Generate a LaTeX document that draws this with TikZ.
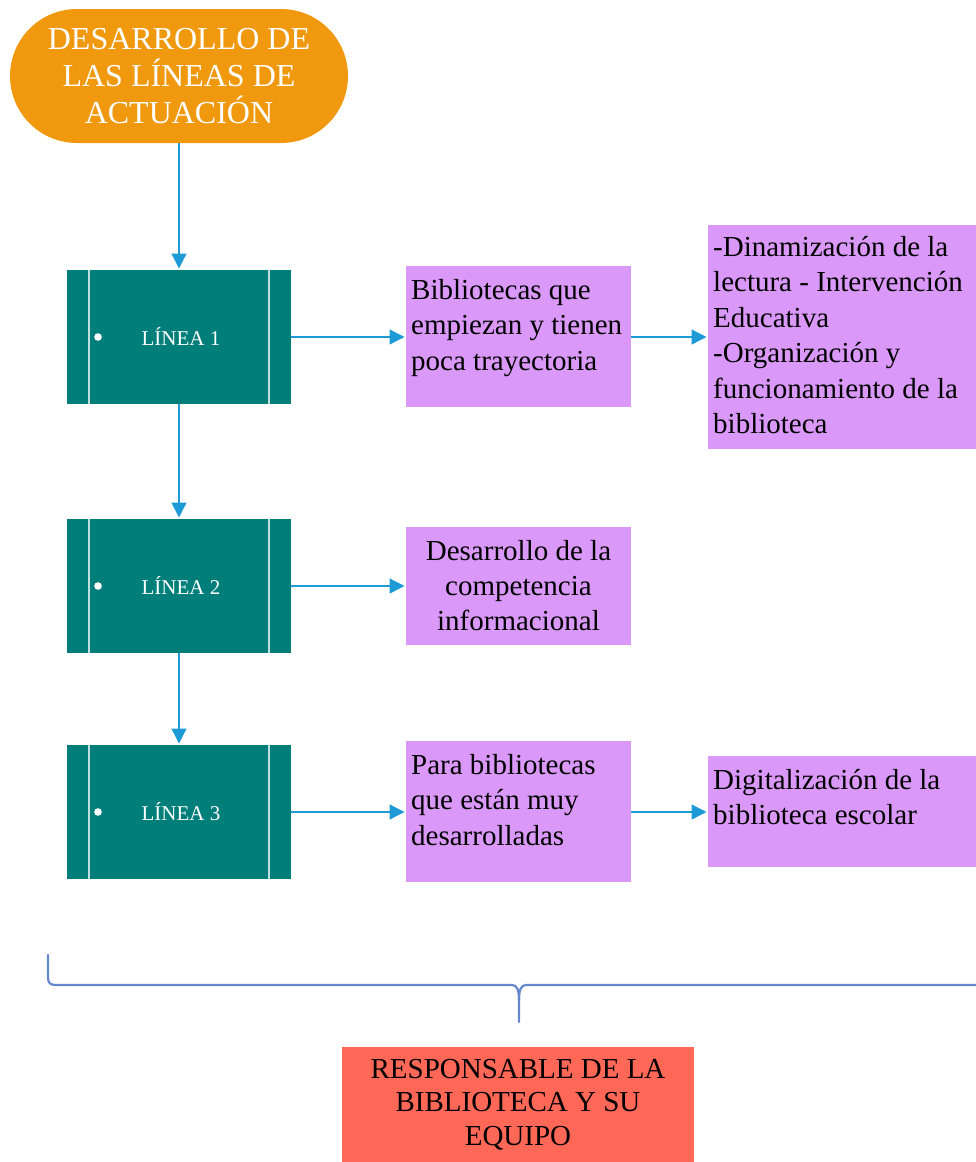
\documentclass[tikz,border=0pt]{standalone}
\usepackage{fontspec}
\setmainfont{Liberation Serif}
\usetikzlibrary{arrows.meta,calc}
\definecolor{orng}{RGB}{240,153,14}
\definecolor{tealbox}{RGB}{0,127,122}
\definecolor{violetbox}{RGB}{218,153,249}
\definecolor{redbox}{RGB}{255,103,87}
\definecolor{arrblue}{RGB}{30,155,215}
\definecolor{braceblue}{RGB}{100,135,205}
\begin{document}
\begin{tikzpicture}[x=1pt,y=-1pt,
  lbox/.style={fill=tealbox, minimum width=224pt, minimum height=134pt, inner sep=0pt, outer sep=0pt, anchor=north west, text=white, font=\fontsize{21}{25}\selectfont},
  innerline/.style={draw=white!75!tealbox, line width=1.4pt},
  pbox/.style={fill=violetbox, inner sep=0pt, outer sep=0pt, anchor=north west},
  ptext/.style={inner sep=0pt, align=left, font=\fontsize{29}{35.5}\selectfont, anchor=north west},
  arr/.style={draw=arrblue, line width=1.3pt, -{Triangle[length=15pt,width=15pt]}, shorten >=1.5pt},
  bracestyle/.style={draw=braceblue, line width=2.2pt, line cap=round}
]
\useasboundingbox (0,0) rectangle (976,1162);

% top terminal
\node[fill=orng, rounded corners=67pt, minimum width=338pt, minimum height=134pt, inner sep=0pt, outer sep=0pt, text=white, align=center, font=\fontsize{32}{37}\selectfont] (top) at (179,76) {DESARROLLO DE\\LAS LÍNEAS DE\\ACTUACIÓN};

% line boxes
\node[lbox] (l1) at (67,270) {\raisebox{1.5pt}{\hspace*{4pt}LÍNEA 1}};
\node[lbox] (l2) at (67,519) {\raisebox{1.5pt}{\hspace*{4pt}LÍNEA 2}};
\node[lbox] (l3) at (67,745) {\raisebox{1.5pt}{\hspace*{4pt}LÍNEA 3}};
\foreach \n in {l1,l2,l3}{
  \draw[innerline] ([xshift=22pt]\n.north west) -- ([xshift=22pt]\n.south west);
  \draw[innerline] ([xshift=-22pt]\n.north east) -- ([xshift=-22pt]\n.south east);
  \fill[white] ([xshift=31pt]\n.west) circle (3.8pt);
}

% violet boxes
\node[pbox, minimum width=225pt, minimum height=141pt] (p1) at (406,266) {};
\node[ptext] (p1t) at ([xshift=5pt,yshift=-13pt]p1.north west) {Bibliotecas que\\empiezan y tienen\\poca trayectoria};

\node[pbox, minimum width=225pt, minimum height=118pt, align=center, font=\fontsize{29}{35}\selectfont] (p2) at (406,527) {Desarrollo de la\\competencia\\informacional};

\node[pbox, minimum width=225pt, minimum height=141pt] (p3) at (406,741) {};
\node[ptext] (p3t) at ([xshift=5pt,yshift=-13pt]p3.north west) {Para bibliotecas\\que están muy\\desarrolladas};

\node[pbox, minimum width=268pt, minimum height=224pt] (q1) at (708,225) {};
\node[ptext] (q1t) at ([xshift=5pt,yshift=-11pt]q1.north west) {-Dinamización de la\\lectura - Intervención\\Educativa\\-Organización y\\funcionamiento de la\\biblioteca};

\node[pbox, minimum width=268pt, minimum height=111pt] (q2) at (708,756) {};
\node[ptext] (q2t) at ([xshift=5pt,yshift=-13pt]q2.north west) {Digitalización de la\\biblioteca escolar};

% bottom box
\node[fill=redbox, minimum width=352pt, minimum height=115pt, inner sep=0pt, outer sep=0pt, align=center, font=\fontsize{29}{33.5}\selectfont] (resp) at (518,1104.5) {RESPONSABLE DE LA\\BIBLIOTECA Y SU\\EQUIPO};

% arrows
\draw[arr] (top.south) -- (l1.north);
\draw[arr] (l1.south) -- (l2.north);
\draw[arr] (l2.south) -- (l3.north);
\draw[arr] (l1.east) -- (l1.east -| p1.west);
\draw[arr] (p1.east |- l1.east) -- (q1.west |- l1.east);
\draw[arr] (l2.east) -- (l2.east -| p2.west);
\draw[arr] (l3.east) -- (l3.east -| p3.west);
\draw[arr] (p3.east |- l3.east) -- (q2.west |- l3.east);

% brace
\coordinate (bl) at (48,955);
\coordinate (bm) at (519,1022);
\coordinate (br) at (976,985);
\draw[bracestyle] (bl) -- (48,977) .. controls (48,983) and (50,985) .. (56,985) -- (512,985) .. controls (517,985) and (519,990) .. (519,1000) -- (bm);
\draw[bracestyle] (br) -- (526,985) .. controls (521,985) and (519,990) .. (519,1000);
\end{tikzpicture}
\end{document}
